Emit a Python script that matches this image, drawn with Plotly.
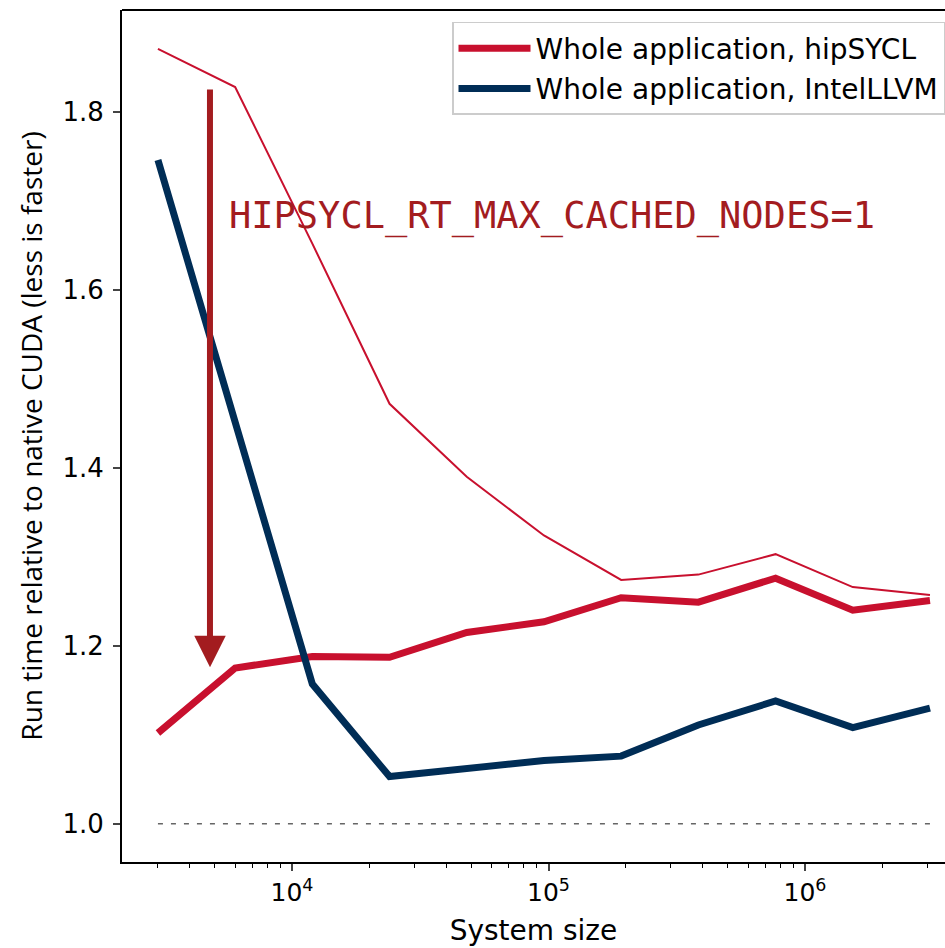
import plotly.graph_objects as go

system_size = [3000, 6000, 12000, 24000, 48000, 96000, 192000, 384000, 768000, 1536000, 3072000]
hipsycl_default = [1.871, 1.828, 1.652, 1.472, 1.390, 1.324, 1.274, 1.280, 1.303, 1.266, 1.257]
hipsycl_cached1 = [1.102, 1.175, 1.188, 1.187, 1.215, 1.227, 1.254, 1.249, 1.276, 1.240, 1.251]
intelllvm = [1.746, 1.454, 1.157, 1.053, 1.062, 1.071, 1.076, 1.111, 1.138, 1.108, 1.130]
baseline = [1.0, 1.0]
baseline_x = [3000, 3072000]

x_ticks = [1e4, 1e5, 1e6]
x_ticktext = ["10<sup>4</sup>", "10<sup>5</sup>", "10<sup>6</sup>"]
y_ticks = [1.0, 1.2, 1.4, 1.6, 1.8]
minor_ticks = [m * 10 ** e for e in range(3, 7) for m in range(2, 10) if 2000 < m * 10 ** e < 3.5e6]

RED = "#c8102e"
BLUE = "#002d56"
ARROW = "#a31c1f"

fig = go.Figure()
fig.add_trace(go.Scatter(x=baseline_x, y=baseline, mode="lines", showlegend=False,
                         line=dict(color="#666666", width=1.3, dash="5px,8px")))
fig.add_trace(go.Scatter(x=system_size, y=hipsycl_default, mode="lines", showlegend=False,
                         line=dict(color=RED, width=2)))
fig.add_trace(go.Scatter(x=system_size, y=hipsycl_cached1, mode="lines", name="Whole application, hipSYCL",
                         legendgroup="a", line=dict(color=RED, width=7)))
fig.add_trace(go.Scatter(x=system_size, y=intelllvm, mode="lines", name="Whole application, IntelLLVM",
                         legendgroup="b", line=dict(color=BLUE, width=7)))

fig.add_annotation(x=3.680, y=1.176, ax=3.680, ay=1.827, xref="x", yref="y", axref="x", ayref="y",
                   showarrow=True, arrowhead=2, arrowsize=1.05, arrowwidth=6, arrowcolor=ARROW, text="")
fig.add_annotation(x=3.745, y=1.683, xref="x", yref="y", showarrow=False, xanchor="left", yanchor="middle",
                   text="HIPSYCL_RT_MAX_CACHED_NODES=1",
                   font=dict(family="DejaVu Sans Mono", size=37, color=ARROW))

fig.update_layout(
    width=945, height=948,
    margin=dict(l=122, r=0, t=10, b=86),
    paper_bgcolor="white", plot_bgcolor="white",
    font=dict(family="DejaVu Sans", size=24, color="black"),
    showlegend=True,
    legend=dict(x=1.0, xanchor="right", y=0.986, yanchor="top", bgcolor="rgba(255,255,255,0.8)",
                bordercolor="#cccccc", borderwidth=1.5, font=dict(family="DejaVu Sans", size=28), itemwidth=72,
                traceorder="grouped", tracegroupgap=1),
)
fig.update_xaxes(type="log", range=[3.337, 6.546], showline=True, linecolor="black", linewidth=2,
                 mirror=False, showgrid=False, zeroline=False, ticks="outside", ticklen=7, tickwidth=1.5,
                 tickvals=x_ticks, ticktext=x_ticktext, tickfont=dict(family="DejaVu Sans", size=25),
                 minor=dict(tickvals=minor_ticks, ticks="outside", ticklen=4, tickwidth=1, tickcolor="black", showgrid=False),
                 title=dict(text="System size", standoff=14, font=dict(family="DejaVu Sans", size=28)))
fig.update_yaxes(range=[0.957, 1.9146], showline=True, linecolor="black", linewidth=2, showgrid=False,
                 zeroline=False, ticks="outside", ticklen=7, tickwidth=1.5, tickvals=y_ticks, tickformat=".1f",
                 tickfont=dict(family="DejaVu Sans", size=26), ticklabelstandoff=4,
                 title=dict(text="Run time relative to native CUDA (less is faster)", standoff=12,
                            font=dict(family="Open Sans", size=28)))
# top spine
fig.add_shape(type="line", xref="paper", yref="paper", x0=0, x1=1, y0=1, y1=1, line=dict(color="black", width=2))

fig.write_html("out.html")
